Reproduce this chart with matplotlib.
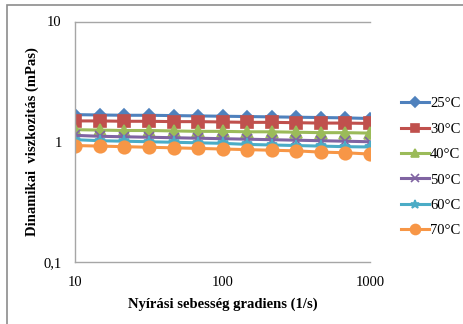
import matplotlib
matplotlib.use("Agg")
import matplotlib.pyplot as plt
from matplotlib.patches import Rectangle
from matplotlib.ticker import FixedLocator, NullLocator

plt.rcParams['font.family'] = ['Liberation Serif', 'DejaVu Serif']

# shear rate (1/s)
shear = [10, 14.7, 21.5, 31.6, 46.4, 68.1, 100, 147, 215, 316, 464, 681, 1000]

# dynamic viscosity (mPas) per temperature
v25 = [1.68, 1.67, 1.66, 1.66, 1.65, 1.64, 1.63, 1.62, 1.61, 1.60, 1.59, 1.58, 1.56]
v30 = [1.49, 1.49, 1.48, 1.48, 1.47, 1.47, 1.46, 1.45, 1.45, 1.44, 1.43, 1.43, 1.42]
v40 = [1.26, 1.25, 1.24, 1.24, 1.23, 1.22, 1.22, 1.21, 1.21, 1.20, 1.19, 1.19, 1.18]
v50 = [1.13, 1.11, 1.10, 1.09, 1.08, 1.07, 1.06, 1.05, 1.04, 1.03, 1.02, 1.01, 1.00]
v60 = [1.04, 1.02, 1.01, 1.00, 0.99, 0.98, 0.97, 0.95, 0.94, 0.93, 0.92, 0.91, 0.905]
v70 = [0.93, 0.92, 0.91, 0.90, 0.89, 0.88, 0.87, 0.86, 0.85, 0.84, 0.82, 0.81, 0.79]

labels = ['25°C', '30°C', '40°C', '50°C', '60°C', '70°C']
series = [v25, v30, v40, v50, v60, v70]
colors = ['#4F81BD', '#C0504D', '#9BBB59', '#8064A2', '#4BACC6', '#F79646']
markers = ['D', 's', '^', 'x', '*', 'o']
msizes = [6, 8, 8, 7, 8, 9]

fig = plt.figure(figsize=(4.64, 3.24), dpi=100)
# outer frame (only left and top edges fall inside the picture)
fig.patches.append(Rectangle((7/464, -0.1), 1.2, 1 - 5/324 + 0.1, transform=fig.transFigure,
                             fill=False, edgecolor='#8c8c8c', linewidth=1.2))
ax = fig.add_axes([75.5/464, 1 - 262/324, 294.5/464, 240.5/324])

for vals, lab, c, m, ms in zip(series, labels, colors, markers, msizes):
    ax.plot(shear, vals, color=c, marker=m, markersize=ms, linewidth=2.2,
            markeredgewidth=1.2, label=lab)

ax.set_xscale('log')
ax.set_yscale('log')
ax.set_xlim(10, 1000)
ax.set_ylim(0.1, 10)
ax.xaxis.set_major_locator(FixedLocator([10, 100, 1000]))
ax.yaxis.set_major_locator(FixedLocator([0.1, 1, 10]))
ax.xaxis.set_minor_locator(NullLocator())
ax.yaxis.set_minor_locator(NullLocator())
ax.set_xticklabels(['10', '100', '1000'])
ax.set_yticklabels(['0,1', '1', '10'])
ax.tick_params(length=0, labelsize=10.5, pad=10)
for s in ax.spines.values():
    s.set_color('#a6a6a6')
    s.set_linewidth(1.0)
ax.spines['right'].set_visible(False)

ax.set_xlabel('Nyírási sebesség gradiens (1/s)', fontsize=10.5, fontweight='bold', labelpad=6)
ax.set_ylabel('Dinamikai  viszkozitás (mPas)', fontsize=10.5, fontweight='bold', labelpad=3)

ax.legend(loc='upper left', bbox_to_anchor=(401/464, 1 - 97/324), bbox_transform=fig.transFigure,
          frameon=False, fontsize=10.5, handlelength=1.9, handletextpad=0.1,
          labelspacing=0.84, borderaxespad=0, borderpad=0, markerscale=0.8)

fig.savefig('out.png', dpi=100)
